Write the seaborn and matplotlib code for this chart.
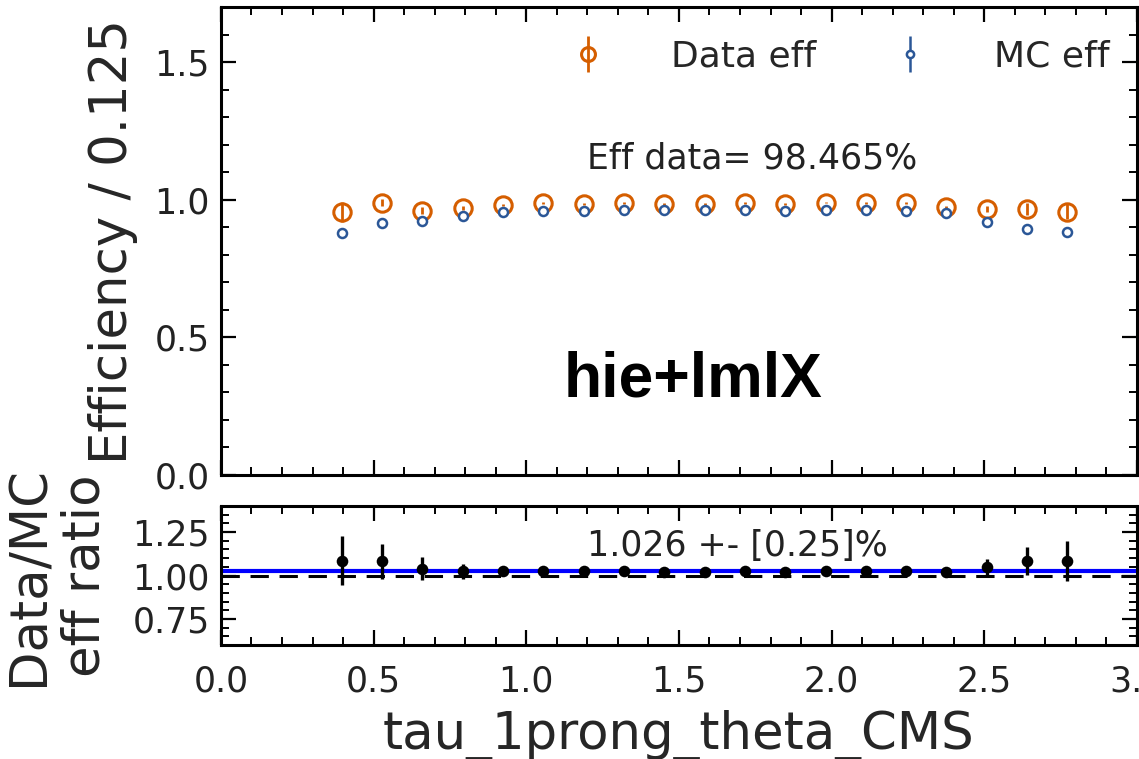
import matplotlib
matplotlib.use("Agg")
import matplotlib.pyplot as plt
import seaborn as sns
import numpy as np
from matplotlib.ticker import MultipleLocator

# ---- data ----
bin_centers = [0.396, 0.528, 0.660, 0.792, 0.924, 1.056, 1.188, 1.320, 1.452, 1.584,
               1.716, 1.848, 1.980, 2.112, 2.244, 2.376, 2.508, 2.640, 2.772]
data_eff = [0.955, 0.990, 0.961, 0.969, 0.981, 0.988, 0.985, 0.988, 0.984, 0.984,
            0.988, 0.985, 0.990, 0.988, 0.988, 0.973, 0.966, 0.966, 0.957]
data_err = [0.036, 0.012, 0.012, 0.007, 0.004, 0.003, 0.003, 0.003, 0.003, 0.003,
            0.003, 0.003, 0.003, 0.003, 0.003, 0.004, 0.011, 0.022, 0.027]
mc_eff = [0.879, 0.915, 0.924, 0.943, 0.955, 0.960, 0.961, 0.963, 0.963, 0.963,
          0.963, 0.961, 0.963, 0.963, 0.961, 0.953, 0.921, 0.894, 0.882]
mc_err = [0.002] * 19
ratio = [1.085, 1.082, 1.040, 1.025, 1.027, 1.028, 1.025, 1.026, 1.022, 1.022,
         1.026, 1.022, 1.027, 1.026, 1.027, 1.018, 1.047, 1.083, 1.085]
ratio_err = [0.14, 0.10, 0.065, 0.043, 0.02, 0.015, 0.012, 0.012, 0.012, 0.012,
             0.012, 0.012, 0.012, 0.012, 0.012, 0.015, 0.05, 0.08, 0.115]
mean_ratio = 1.026
eff_text = "Eff data= 98.465%"
ratio_text = "1.026 +- [0.25]%"
tag_text = "hie+lmlX"
xlabel = "tau_1prong_theta_CMS"
ylabel_top = "Efficiency / 0.125"
ylabel_bot = "Data/MC\neff ratio"

orange = "#D55E00"
blue = "#2B5797"

sns.set_theme(style="ticks")
plt.rcParams['font.family'] = ['DejaVu Sans']
plt.rcParams['axes.edgecolor'] = 'black'
plt.rcParams['axes.linewidth'] = 2.2

fig = plt.figure(figsize=(11.39, 7.59), dpi=100)
ax1 = fig.add_axes([0.194, 0.3742, 0.8042, 0.6162])
ax2 = fig.add_axes([0.194, 0.1502, 0.8042, 0.1831])

# top panel
ax1.errorbar(bin_centers, data_eff, yerr=data_err, fmt='o', mfc='none', mec=orange,
             ecolor=orange, ms=12.5, mew=2.2, elinewidth=2.0, label='Data eff', zorder=3)
ax1.errorbar(bin_centers, mc_eff, yerr=mc_err, fmt='o', mfc='white', mec=blue,
             ecolor=blue, ms=6.5, mew=1.8, elinewidth=1.8, label='MC eff', zorder=4)
ax1.set_xlim(0, 3.0)
ax1.set_ylim(0, 1.7)
ax1.set_ylabel(ylabel_top, fontsize=37, labelpad=12)
ax1.text(1.741, 1.152, eff_text, fontsize=25, ha='center', va='center', color='#222222')
ax1.text(1.545, 0.345, tag_text, fontsize=45, fontweight='bold', ha='center', va='center',
         family='Liberation Sans', color='black')
leg = ax1.legend(ncol=2, frameon=False, loc='upper right', fontsize=26,
                 bbox_to_anchor=(1.005, 1.0), handletextpad=1.3, columnspacing=1.6,
                 markerscale=0.8)
ax1.yaxis.set_major_locator(MultipleLocator(0.5))
ax1.yaxis.set_minor_locator(MultipleLocator(0.1))
ax1.xaxis.set_major_locator(MultipleLocator(0.5))
ax1.xaxis.set_minor_locator(MultipleLocator(0.1))
ax1.tick_params(labelbottom=False)

# ratio panel
ax2.axhline(mean_ratio, color='blue', lw=3, zorder=2)
ax2.axhline(1.0, color='black', ls='--', lw=2.2, dashes=(6, 3.5), zorder=2)
ax2.errorbar(bin_centers, ratio, yerr=ratio_err, fmt='none', ecolor='black',
             elinewidth=2.4, zorder=3)
sns.scatterplot(x=bin_centers, y=ratio, color='black', s=70, edgecolor='black',
                linewidth=0, ax=ax2, zorder=4)
ax2.text(1.69, 1.17, ratio_text, fontsize=25, ha='center', va='center', color='#222222')
ax2.set_xlim(0, 3.0)
ax2.set_ylim(0.6, 1.4)
ax2.yaxis.set_major_locator(MultipleLocator(0.25))
ax2.yaxis.set_minor_locator(MultipleLocator(0.05))
ax2.xaxis.set_major_locator(MultipleLocator(0.5))
ax2.xaxis.set_minor_locator(MultipleLocator(0.1))
ax2.set_ylabel(ylabel_bot, fontsize=37, linespacing=1.15, labelpad=16)
ax2.set_xlabel(xlabel, fontsize=37, labelpad=8)

for ax in (ax1, ax2):
    ax.tick_params(which='both', direction='in', top=True, right=True, colors='black',
                   labelcolor='#222222')
    ax.tick_params(which='major', length=10.5, width=1.6, labelsize=25, pad=8)
    ax.tick_params(which='minor', length=5.5, width=1.4)
ax2.tick_params(axis='x', which='major', pad=14)

fig.savefig("out.png", dpi=100)
